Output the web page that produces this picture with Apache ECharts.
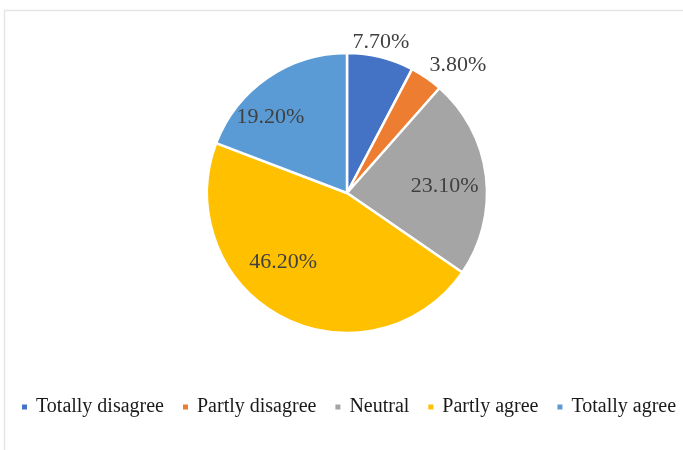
<!DOCTYPE html>
<html>
<head>
<meta charset="utf-8">
<script src="https://cdn.jsdelivr.net/npm/echarts@6/dist/echarts.min.js"></script>
<style>
html,body{margin:0;padding:0;background:#fff;}
#main{width:683px;height:450px;}
</style>
</head>
<body>
<div id="main"></div>
<script>
const categories = ['Totally disagree', 'Partly disagree', 'Neutral', 'Partly agree', 'Totally agree'];
const values = [7.7, 3.8, 23.1, 46.2, 19.2];
const colors = ['#4472C4', '#ED7D31', '#A5A5A5', '#FFC000', '#5B9BD5'];

// label placement (radius fraction, angle shift in degrees) – style only
const labelPolar = [[1.106, -1.2], [1.21, 6.3], [0.70, 2.9], [0.67, 15.1], [0.77, -10.8]];
const CX = 347, CY = 193, R = 140;

const total = values.reduce((a, b) => a + b, 0);
const midAngles = [];
let acc = 0;
values.forEach(v => { midAngles.push((acc + v / 2) / total * 360); acc += v; });

const chart = echarts.init(document.getElementById('main'), null, {renderer: 'canvas'});
chart.setOption({
  backgroundColor: '#ffffff',
  animation: false,
  color: colors,
  graphic: [{
    type: 'rect',
    shape: {x: 4.5, y: 10.5, width: 700, height: 460},
    style: {fill: 'none', stroke: '#e6e6e6', lineWidth: 1.5},
    silent: true
  }],
  legend: {
    left: 20,
    top: 397,
    width: 1200,
    padding: 0,
    itemWidth: 7,
    itemHeight: 7,
    itemGap: 17,
    icon: 'rect',
    data: categories,
    textStyle: {fontFamily: 'Liberation Serif', fontSize: 20, color: '#1a1a1a', padding: [0, 0, 0, 3]}
  },
  series: [{
    type: 'pie',
    center: [CX, CY],
    radius: R,
    startAngle: 90,
    clockwise: true,
    data: categories.map((c, i) => ({name: c, value: values[i]})),
    itemStyle: {borderColor: '#ffffff', borderWidth: 2.5},
    label: {
      show: true,
      position: 'inside',
      formatter: p => p.value.toFixed(2) + '%',
      fontFamily: 'Liberation Serif',
      fontSize: 22,
      color: '#404040'
    },
    labelLine: {show: false},
    labelLayout: function (p) {
      const i = p.dataIndex;
      const ang = (midAngles[i] + labelPolar[i][1]) * Math.PI / 180;
      const r = R * labelPolar[i][0];
      return {
        x: CX + r * Math.sin(ang),
        y: CY - r * Math.cos(ang),
        align: 'center',
        verticalAlign: 'middle'
      };
    },
    emphasis: {disabled: true}
  }]
});
</script>
</body>
</html>
